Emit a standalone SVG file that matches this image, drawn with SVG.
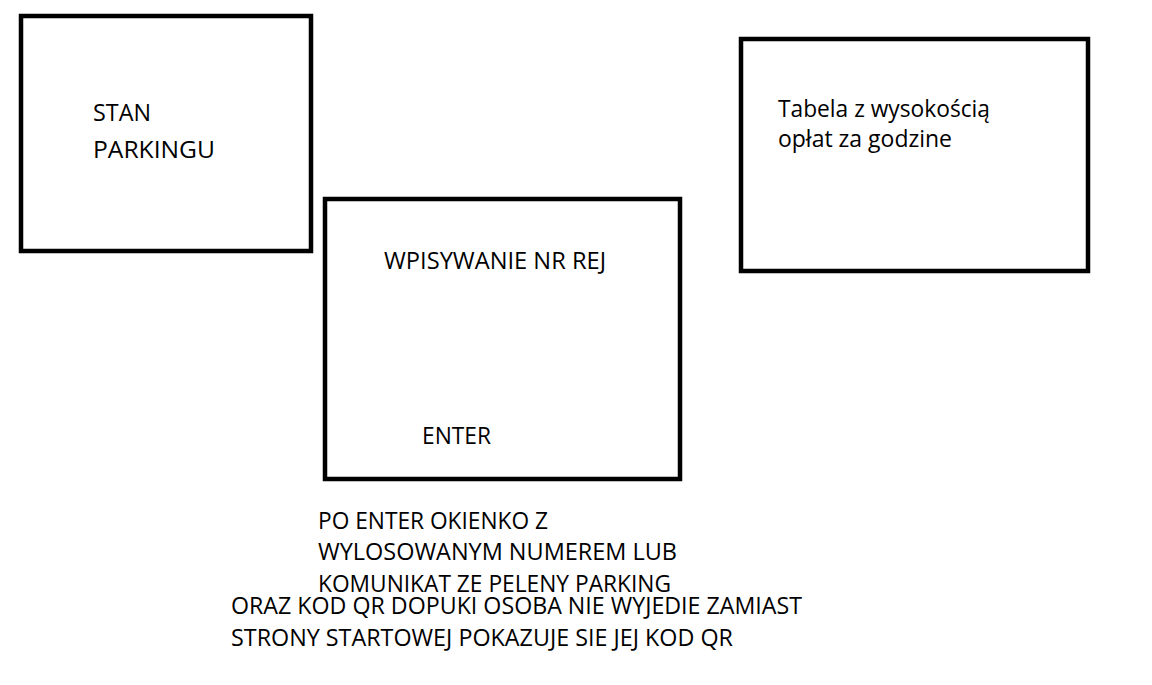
<svg xmlns="http://www.w3.org/2000/svg" width="1152" height="685" viewBox="0 0 1152 685">
<style>
.box{fill:#fff;stroke:#000;stroke-width:4.5}
.t{font-family:"Open Sans","Noto Sans","Liberation Sans",sans-serif;font-size:23px;fill:#000}
</style>
<rect width="1152" height="685" fill="#fff"/>
<g id="stan-parkingu">
<rect class="box" x="21" y="16" width="290" height="235"/>
<text class="t" x="93" y="121" textLength="58" lengthAdjust="spacingAndGlyphs">STAN</text>
<text class="t" x="93" y="158" textLength="122" lengthAdjust="spacingAndGlyphs">PARKINGU</text>
</g>
<g id="wpisywanie">
<rect class="box" x="325" y="199" width="355" height="280"/>
<text class="t" x="384" y="269" textLength="222" lengthAdjust="spacingAndGlyphs">WPISYWANIE NR REJ</text>
<text class="t" x="422" y="444" textLength="69" lengthAdjust="spacingAndGlyphs">ENTER</text>
</g>
<g id="tabela">
<rect class="box" x="741" y="39" width="347" height="232"/>
<text class="t" x="778" y="117" textLength="212" lengthAdjust="spacingAndGlyphs">Tabela z wysokością</text>
<text class="t" x="778" y="147" textLength="174" lengthAdjust="spacingAndGlyphs">opłat za godzine</text>
</g>
<g id="opis">
<text class="t" x="318" y="529" textLength="230" lengthAdjust="spacingAndGlyphs">PO ENTER OKIENKO Z</text>
<text class="t" x="318" y="560" textLength="359" lengthAdjust="spacingAndGlyphs">WYLOSOWANYM NUMEREM LUB</text>
<text class="t" x="318" y="592" textLength="353" lengthAdjust="spacingAndGlyphs">KOMUNIKAT ZE PELENY PARKING</text>
<text class="t" x="231" y="614" textLength="571" lengthAdjust="spacingAndGlyphs">ORAZ KOD QR DOPUKI OSOBA NIE WYJEDIE ZAMIAST</text>
<text class="t" x="231" y="646" textLength="502" lengthAdjust="spacingAndGlyphs">STRONY STARTOWEJ POKAZUJE SIE JEJ KOD QR</text>
</g>
<g id="connectors"></g>
</svg>
